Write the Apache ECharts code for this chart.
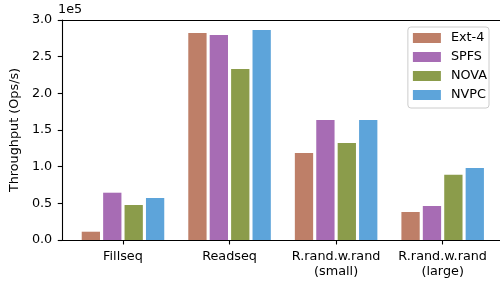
<!DOCTYPE html>
<html>
<head>
<meta charset="utf-8">
<script src="https://cdn.jsdelivr.net/npm/echarts@6/dist/echarts.min.js"></script>
<style>
  html, body { margin: 0; padding: 0; background: #fff; }
  #chart { width: 500px; height: 281px; }
</style>
</head>
<body>
<div id="chart"></div>
<script>
// categories and throughput (Ops/s) per file system
const categories = ['Fillseq', 'Readseq', 'R.rand.w.rand\n(small)', 'R.rand.w.rand\n(large)']
const ext4 = [11300, 282300, 118600, 38200]
const spfs = [64500, 279500, 163600, 46400]
const nova = [47700, 233200, 132300, 89100]
const nvpc = [57300, 286400, 163600, 98200]
const seriesNames = ['Ext-4', 'SPFS', 'NOVA', 'NVPC']

const colors = ['#BE7F68', '#A76CB4', '#8B9C4B', '#5DA4DA']
const font = 'DejaVu Sans'
const fs = 12.8

const toPoints = arr => arr.map((v, i) => [i, v])

const chart = echarts.init(document.getElementById('chart'), null, { renderer: 'canvas' })

const option = {
    animation: false,
    color: colors,
    textStyle: { fontFamily: font, color: '#000' },
    title: {
        text: '1e5',
        left: 58,
        top: 3,
        padding: 0,
        textStyle: { fontFamily: font, fontSize: fs, fontWeight: 'normal', color: '#000' }
    },
    grid: { left: 58, right: 0, top: 20, bottom: 41, containLabel: false },
    legend: {
        data: seriesNames,
        orient: 'vertical',
        right: 11,
        top: 27,
        itemWidth: 28,
        itemHeight: 10,
        itemGap: 5,
        padding: [4, 2, 6, 5],
        backgroundColor: 'rgba(255,255,255,0.8)',
        borderColor: '#cccccc',
        borderWidth: 1,
        borderRadius: 3,
        icon: 'rect',
        textStyle: { fontFamily: font, fontSize: fs, color: '#000', lineHeight: 14, padding: [0, 0, 0, 5] }
    },
    xAxis: [
        {
            type: 'value',
            min: -0.570,
            max: 3.538,
            splitLine: { show: false },
            axisLine: { show: true, onZero: false, lineStyle: { color: '#000', width: 1.1 } },
            axisTick: { show: true, length: 4.5, customValues: [0, 1, 2, 3], lineStyle: { color: '#000', width: 1.1 } },
            axisLabel: {
                customValues: [0, 1, 2, 3],
                formatter: v => categories[Math.round(v)],
                fontFamily: font,
                fontSize: fs,
                color: '#000',
                lineHeight: 15,
                margin: 9
            }
        },
        {
            type: 'value',
            position: 'top',
            min: -0.570,
            max: 3.538,
            splitLine: { show: false },
            axisLine: { show: true, onZero: false, lineStyle: { color: '#000', width: 1.1 } },
            axisTick: { show: false },
            axisLabel: { show: false }
        }
    ],
    yAxis: {
        type: 'value',
        min: 0,
        max: 300000,
        interval: 50000,
        name: 'Throughput (Ops/s)',
        nameLocation: 'middle',
        nameGap: 35,
        nameTextStyle: { fontFamily: font, fontSize: fs, color: '#000' },
        splitLine: { show: false },
        axisLine: { show: true, onZero: false, lineStyle: { color: '#000', width: 1.1 } },
        axisTick: { show: true, length: 4.5, lineStyle: { color: '#000', width: 1.1 } },
        axisLabel: {
            formatter: v => (v / 1e5).toFixed(1),
            fontFamily: font,
            fontSize: fs,
            color: '#000',
            margin: 10
        }
    },
    series: [
        { name: seriesNames[0], type: 'bar', data: toPoints(ext4) },
        { name: seriesNames[1], type: 'bar', data: toPoints(spfs) },
        { name: seriesNames[2], type: 'bar', data: toPoints(nova) },
        { name: seriesNames[3], type: 'bar', data: toPoints(nvpc) }
    ].map(s => Object.assign(s, { barWidth: 18.3, barGap: '17%', xAxisIndex: 0 }))
}

chart.setOption(option)
</script>
</body>
</html>
